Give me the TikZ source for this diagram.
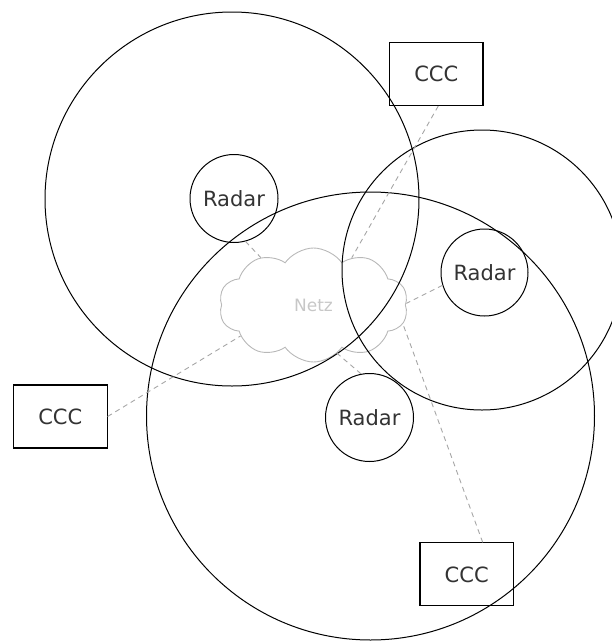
\documentclass[tikz,border=0pt]{standalone}
\usepackage{fontspec}
\setmainfont{DejaVu Sans}
\usetikzlibrary{shapes.symbols}
\begin{document}
\begin{tikzpicture}[x=1pt,y=-1pt,
  cover/.style={circle,draw=black,line width=1pt,inner sep=0pt},
  radar/.style={circle,draw=black,line width=1pt,inner sep=0pt,minimum size=88pt,font=\fontsize{21}{25}\selectfont,text=black!80},
  ccc/.style={rectangle,draw=black,line width=1.1pt,minimum width=93.5pt,minimum height=63pt,inner sep=0pt,font=\fontsize{21}{25}\selectfont,text=black!80},
  link/.style={draw=black!35,line width=0.9pt,dash pattern=on 5pt off 4pt},
  netzcloud/.style={cloud,cloud puffs=10,cloud puff arc=110,shape border rotate=18,cloud ignores aspect,draw=black!28,line width=0.9pt,minimum width=189pt,minimum height=114pt,inner sep=0pt,font=\fontsize{17}{20}\selectfont,text=black!22}]
\useasboundingbox (0,0) rectangle (612,641);
\clip (0,0) rectangle (612,641);
\node[netzcloud] (netz) at (313.5,305) {Netz};
\node[cover,minimum size=374pt] (cov1) at (232,199) {};
\node[cover,minimum size=448pt] (cov2) at (370.5,416) {};
\node[cover,minimum size=280pt] (cov3) at (482,270) {};
\node[radar] (r1) at (234,198.5) {Radar};
\node[radar,minimum size=87pt] (r2) at (484.5,272.5) {Radar};
\node[radar] (r3) at (369.5,417.5) {Radar};
\node[ccc] (c1) at (436.25,74) {CCC};
\node[ccc] (c2) at (60.3,416.5) {CCC};
\node[ccc] (c3) at (466.7,574.4) {CCC};
\draw[link] ([xshift=2pt]c1.south) -- (netz.51);
\draw[link] (r1.-75) -- (netz.138);
\draw[link] (r2.197) -- (netz.1);
\draw[link] (c2.east) -- (netz.203);
\draw[link] ([xshift=16pt]c3.north) -- (netz.348);
\draw[link] (r3.101) -- (netz.-64);
\end{tikzpicture}
\end{document}
